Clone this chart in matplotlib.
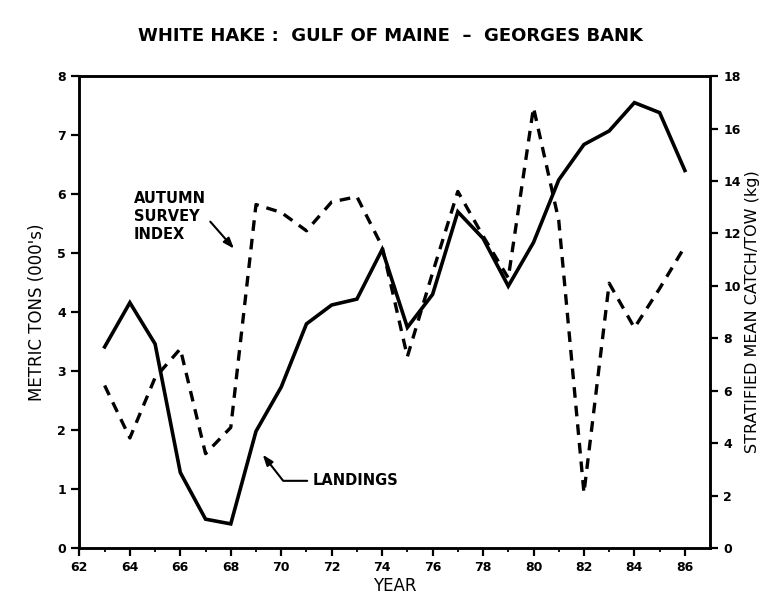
import numpy as np
import matplotlib.pyplot as plt

# valori
years = [63, 64, 65, 66, 67, 68, 69, 70, 71, 72, 73, 74,
         75, 76, 77, 78, 79, 80, 81, 82, 83, 84, 85, 86]
# landings, migliaia di tonnellate (asse sinistro)
landings = [3.41, 4.16, 3.46, 1.28, 0.49, 0.41, 1.98, 2.73, 3.80, 4.12, 4.22, 5.06,
            3.74, 4.30, 5.70, 5.25, 4.44, 5.18, 6.24, 6.84, 7.07, 7.55, 7.38, 6.40]
# autumn survey index, kg/tow (asse destro)
survey = [6.2, 4.2, 6.5, 7.6, 3.6, 4.6, 13.1, 12.8, 12.1, 13.2, 13.4, 11.5,
          7.3, 10.5, 13.6, 11.9, 10.3, 16.8, 12.5, 2.1, 10.1, 8.4, 9.9, 11.5]

x_ticks = [62, 64, 66, 68, 70, 72, 74, 76, 78, 80, 82, 84, 86]
left_ticks = [0, 1, 2, 3, 4, 5, 6, 7, 8]
right_ticks = [0, 2, 4, 6, 8, 10, 12, 14, 16, 18]

plt.rcParams['font.family'] = ['DejaVu Sans']

fig = plt.figure(figsize=(7.71, 5.99), dpi=100)
ax = fig.add_axes([0.103, 0.085, 0.818, 0.788])
ax2 = ax.twinx()

ax.plot(years, landings, color='black', lw=2.6, solid_joinstyle='miter')
ax2.plot(years, survey, color='black', lw=2.4, dashes=(3.2, 2.4))

ax.set_xlim(62, 87)
ax.set_ylim(0, 8)
ax2.set_ylim(0, 18)

ax.set_xticks(x_ticks)
ax.set_xticks(years, minor=True)
ax.set_yticks(left_ticks)
ax2.set_yticks(right_ticks)

for a in (ax, ax2):
    for s in a.spines.values():
        s.set_linewidth(1.8)
ax.tick_params(axis='both', which='major', direction='out', length=6, width=1.6,
               labelsize=9)
ax.tick_params(axis='x', which='minor', direction='out', length=3, width=1.3)
ax2.tick_params(axis='y', direction='out', length=6, width=1.6, labelsize=9)
for lab in ax.get_xticklabels() + ax.get_yticklabels() + ax2.get_yticklabels():
    lab.set_fontweight('bold')

ax.set_xlabel("YEAR", fontsize=12, labelpad=2)
ax.set_ylabel("METRIC TONS (000's)", fontsize=12, labelpad=8)
ax2.set_ylabel("STRATIFIED MEAN CATCH/TOW (kg)", fontsize=11.5, labelpad=3)

fig.suptitle("WHITE HAKE :  GULF OF MAINE  \u2013  GEORGES BANK", x=0.507, y=0.955,
             fontsize=13, fontweight='bold')

# frecce e didascalie
ax2.annotate("AUTUMN\nSURVEY\nINDEX", xy=(68.2, 11.34), xytext=(64.15, 12.65),
             ha='left', va='center', fontsize=10.5, fontweight='bold', linespacing=1.25,
             arrowprops=dict(arrowstyle='-|>,head_length=0.6,head_width=0.22',
                             lw=1.5, color='black', relpos=(1.0, 0.5)))
ax.annotate("LANDINGS", xy=(69.2, 1.62), xytext=(71.25, 1.14),
            ha='left', va='center', fontsize=10.5, fontweight='bold',
            arrowprops=dict(arrowstyle='-|>,head_length=0.6,head_width=0.22',
                            lw=1.5, color='black', relpos=(0.0, 0.5),
                            connectionstyle='angle,angleA=0,angleB=-52,rad=0'))

plt.savefig("out.png", dpi=100)
